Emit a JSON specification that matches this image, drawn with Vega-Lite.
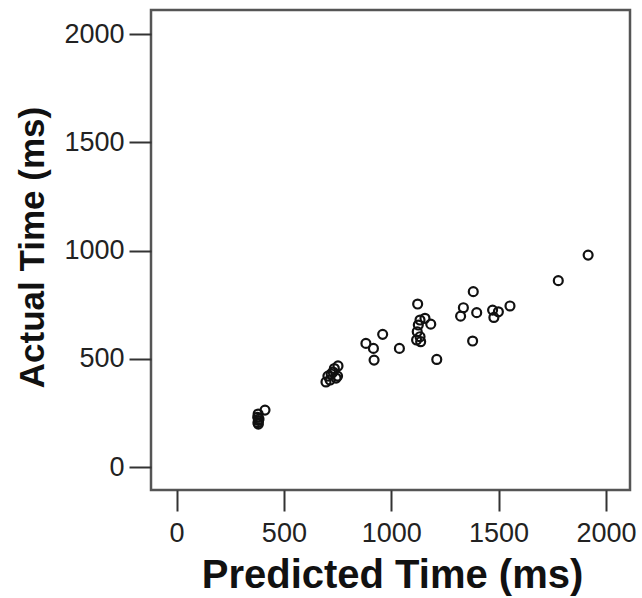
{
  "$schema": "https://vega.github.io/schema/vega-lite/v6.json",
  "autosize": {"type": "none"},
  "padding": {"left": 151, "top": 10, "right": 12, "bottom": 108},
  "width": 479,
  "height": 480,
  "background": "white",
  "config": {
    "font": "Liberation Sans",
    "view": {"stroke": "#555", "strokeWidth": 2.5}
  },
  "data": {
    "values": [
      {"predicted": 1917, "actual": 979},
      {"predicted": 1778, "actual": 861},
      {"predicted": 1382, "actual": 810},
      {"predicted": 1123, "actual": 753},
      {"predicted": 1336, "actual": 736},
      {"predicted": 1323, "actual": 697},
      {"predicted": 1398, "actual": 713},
      {"predicted": 1472, "actual": 725},
      {"predicted": 1499, "actual": 717},
      {"predicted": 1478, "actual": 691},
      {"predicted": 1553, "actual": 744},
      {"predicted": 1379, "actual": 582},
      {"predicted": 1212, "actual": 497},
      {"predicted": 1134, "actual": 679},
      {"predicted": 1157, "actual": 687},
      {"predicted": 1184, "actual": 660},
      {"predicted": 1126, "actual": 656},
      {"predicted": 1121, "actual": 625},
      {"predicted": 1134, "actual": 602},
      {"predicted": 1137, "actual": 579},
      {"predicted": 1118, "actual": 587},
      {"predicted": 1038, "actual": 548},
      {"predicted": 960, "actual": 613},
      {"predicted": 882, "actual": 571},
      {"predicted": 917, "actual": 548},
      {"predicted": 920, "actual": 494},
      {"predicted": 705, "actual": 420},
      {"predicted": 729, "actual": 439},
      {"predicted": 752, "actual": 467},
      {"predicted": 715, "actual": 402},
      {"predicted": 743, "actual": 411},
      {"predicted": 696, "actual": 393},
      {"predicted": 750, "actual": 420},
      {"predicted": 735, "actual": 455},
      {"predicted": 720, "actual": 430},
      {"predicted": 412, "actual": 263},
      {"predicted": 380, "actual": 245},
      {"predicted": 378, "actual": 230},
      {"predicted": 382, "actual": 215},
      {"predicted": 379, "actual": 205},
      {"predicted": 381, "actual": 198},
      {"predicted": 384, "actual": 222}
    ]
  },
  "mark": {"type": "point", "shape": "circle", "filled": false, "size": 80, "strokeWidth": 2.2, "color": "#111", "opacity": 1},
  "encoding": {
    "x": {
      "field": "predicted",
      "type": "quantitative",
      "scale": {"domain": [-119, 2112], "nice": false, "zero": false},
      "axis": {
        "title": "Predicted Time (ms)",
        "values": [0, 500, 1000, 1500, 2000],
        "format": "d",
        "grid": false,
        "domain": false,
        "tickSize": 21,
        "tickWidth": 2,
        "tickColor": "#333",
        "labelFontSize": 27,
        "labelColor": "#222",
        "labelPadding": 9,
        "labelFlush": false,
        "labelOverlap": false,
        "titleFontSize": 40,
        "titleFontWeight": "bold",
        "titleColor": "#111",
        "titleX": 241,
        "titleY": 97,
        "titleBaseline": "alphabetic",
        "titleAlign": "center"
      }
    },
    "y": {
      "field": "actual",
      "type": "quantitative",
      "scale": {"domain": [-106, 2111], "nice": false, "zero": false},
      "axis": {
        "title": "Actual Time (ms)",
        "values": [0, 500, 1000, 1500, 2000],
        "format": "d",
        "grid": false,
        "domain": false,
        "tickSize": 22,
        "tickWidth": 2,
        "tickColor": "#333",
        "labelFontSize": 27,
        "labelColor": "#222",
        "labelPadding": 5,
        "labelFlush": false,
        "labelOverlap": false,
        "titleFontSize": 35,
        "titleFontWeight": "bold",
        "titleColor": "#111",
        "titleX": -108,
        "titleY": 237,
        "titleBaseline": "alphabetic",
        "titleAlign": "center",
        "titleAngle": 270
      }
    }
  }
}
